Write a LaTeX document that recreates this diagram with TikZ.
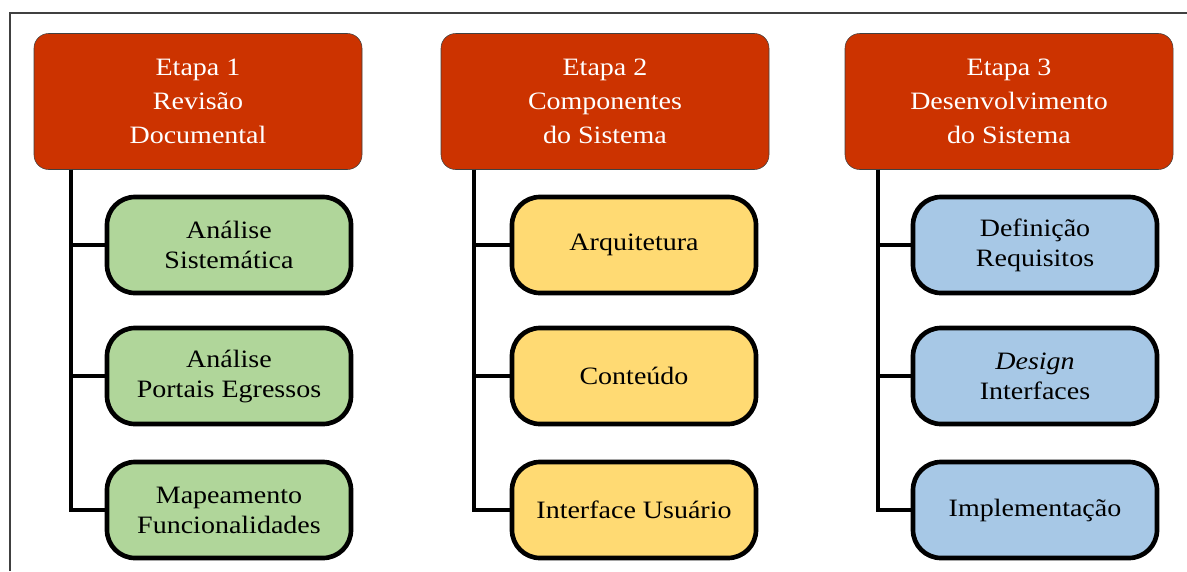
\documentclass[tikz,border=0pt]{standalone}
\usepackage{fontspec}
\setmainfont{Liberation Serif}[FakeStretch=1.12]
\usepackage{tikz}
\definecolor{etapared}{HTML}{CC3300}
\definecolor{tarefagreen}{HTML}{B0D69A}
\definecolor{tarefayellow}{HTML}{FFDA73}
\definecolor{tarefablue}{HTML}{A7C8E6}
\tikzset{
	etapa/.style={rectangle, rounded corners=11pt, draw=black!75, fill=etapared, text=white,
		minimum width=246pt, minimum height=102pt, align=center,
		font=\fontsize{18.75}{25.5}\selectfont},
	tarefa/.style={rectangle, rounded corners=21pt, draw=black, line width=3.5pt,
		minimum width=183pt, minimum height=72pt, align=center,
		font=\fontsize{18.75}{22.5}\selectfont},
	ramo/.style={line width=3pt},
}

\begin{document}
\begin{tikzpicture}[x=0.75pt,y=-0.75pt]
		\useasboundingbox (0,0) rectangle (1187,571);
		% frame
		\draw[line width=2pt, black!75] (10,571) -- (10,13) -- (1187,13);

		% Etapa 1
		\node[etapa] (e1) at (198,101.5) {Etapa 1\\Revisão\\Documental};
		\node[tarefa, fill=tarefagreen] (a1) at (229,245) {Análise\\Sistemática};
		\node[tarefa, fill=tarefagreen] (a2) at (229,376) {Análise\\Portais Egressos};
		\node[tarefa, fill=tarefagreen] (a3) at (229,510) {Mapeamento\\Funcionalidades};
		\coordinate (t1) at ([xshift=28pt]e1.south west);
		\draw[ramo] (t1) |- (a1.west);
		\draw[ramo] (t1) |- (a2.west);
		\draw[ramo] (t1) |- (a3.west);

		% Etapa 2
		\begin{scope}[shift={(407,0)}]
			\node[etapa] (e2) at (198,101.5) {Etapa 2\\Componentes\\do Sistema};
			\node[tarefa, fill=tarefayellow] (b1) at (227,245) {Arquitetura};
			\node[tarefa, fill=tarefayellow] (b2) at (227,376) {Conteúdo};
			\node[tarefa, fill=tarefayellow] (b3) at (227,510) {Interface Usuário};
			\coordinate (t2) at ([xshift=25pt]e2.south west);
			\draw[ramo] (t2) |- (b1.west);
			\draw[ramo] (t2) |- (b2.west);
			\draw[ramo] (t2) |- (b3.west);
		\end{scope}

		% Etapa 3
		\begin{scope}[shift={(809,0)}]
			\node[etapa] (e3) at (200,101.5) {Etapa 3\\Desenvolvimento\\do Sistema};
			\node[tarefa, fill=tarefablue] (c1) at (226,245) {Definição\\Requisitos};
			\node[tarefa, fill=tarefablue] (c2) at (226,376) {{\itshape Design}\\Interfaces};
			\node[tarefa, fill=tarefablue] (c3) at (226,510) {Implementação};
			\coordinate (t3) at ([xshift=25pt]e3.south west);
			\draw[ramo] (t3) |- (c1.west);
			\draw[ramo] (t3) |- (c2.west);
			\draw[ramo] (t3) |- (c3.west);
		\end{scope}
	\end{tikzpicture}
\end{document}
